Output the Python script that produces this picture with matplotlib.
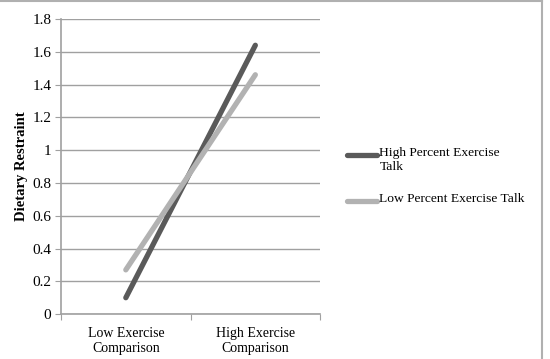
import matplotlib.pyplot as plt
from matplotlib.lines import Line2D

categories = ['Low Exercise\nComparison', 'High Exercise\nComparison']
high_talk = [0.10, 1.64]
low_talk = [0.27, 1.46]
series_names = ['High Percent Exercise\nTalk', 'Low Percent Exercise Talk']
series_colors = ['#5a5a5a', '#b2b2b2']
y_ticks = [0, 0.2, 0.4, 0.6, 0.8, 1, 1.2, 1.4, 1.6, 1.8]
y_tick_labels = ['0', '0.2', '0.4', '0.6', '0.8', '1', '1.2', '1.4', '1.6', '1.8']

plt.rcParams['font.family'] = ['Liberation Serif', 'DejaVu Serif']

fig = plt.figure(figsize=(5.5, 3.59), dpi=100)
ax = fig.add_axes([0.111, 0.125, 0.471, 0.822])

x = [0.5, 1.5]
for vals, name, col in zip([high_talk, low_talk], series_names, series_colors):
    ax.plot(x, vals, color=col, linewidth=3.8, solid_capstyle='round',
            label=name, zorder=3)

ax.set_xlim(0, 2)
ax.set_ylim(0, 1.8)
ax.set_yticks(y_ticks)
ax.set_yticklabels(y_tick_labels)
ax.set_xticks([0, 1, 2])
ax.set_xticklabels([])
ax.set_xticks(x, minor=True)
ax.set_xticklabels(categories, minor=True)
ax.tick_params(axis='x', which='minor', length=0, pad=9, labelsize=10)
ax.tick_params(axis='x', which='major', length=4, color='#a0a0a0', direction='out')
ax.tick_params(axis='y', length=4, color='#a0a0a0', labelsize=11, pad=3)

ax.grid(axis='y', color='#a0a0a0', linewidth=1)
ax.set_axisbelow(True)
for side in ['top', 'right']:
    ax.spines[side].set_visible(False)
for side in ['left', 'bottom']:
    ax.spines[side].set_color('#a0a0a0')
    ax.spines[side].set_linewidth(1.2)

ax.set_ylabel('Dietary Restraint', fontweight='bold', fontsize=10.5, labelpad=3)

# legend drawn by hand so the handle sits on the first text line
legend_y = [0.568, 0.441]
for yy, name, col in zip(legend_y, series_names, series_colors):
    fig.add_artist(Line2D([0.630, 0.686], [yy, yy], transform=fig.transFigure,
                          color=col, linewidth=3.8, solid_capstyle='round'))
    fig.text(0.690, yy + 0.022, name, fontsize=9.7, va='top', ha='left',
             linespacing=1.2)

# outer frame (top and right edges only)
fig.add_artist(Line2D([0, 0.986], [0.998, 0.998], transform=fig.transFigure,
                      color='#b0b0b0', linewidth=1.5))
fig.add_artist(Line2D([0.986, 0.986], [0, 0.998], transform=fig.transFigure,
                      color='#b0b0b0', linewidth=1.5))

fig.savefig('out.png', dpi=100)
